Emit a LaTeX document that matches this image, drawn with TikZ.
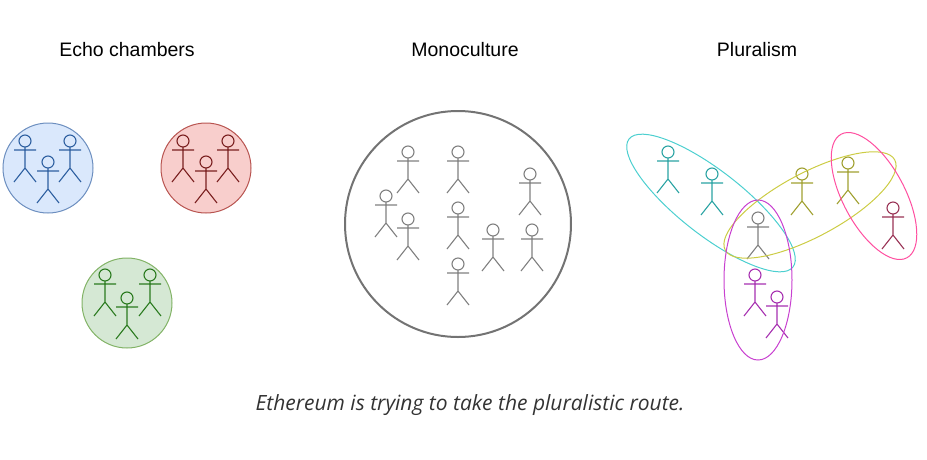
\documentclass[tikz,border=0pt]{standalone}
\usepackage{fontspec}
\setmainfont{Liberation Sans}
\newfontfamily\capfont{Open Sans}
\definecolor{bluef}{HTML}{DAE8FC}\definecolor{bluel}{HTML}{6C8EBF}\definecolor{bluep}{HTML}{2D5FA0}
\definecolor{redf}{HTML}{F8CECC}\definecolor{redl}{HTML}{B85450}\definecolor{redp}{HTML}{7A1F1F}
\definecolor{greenf}{HTML}{D5E8D4}\definecolor{greenl}{HTML}{82B366}\definecolor{greenp}{HTML}{2A7A1E}
\definecolor{grayp}{HTML}{808080}
\definecolor{cyanp}{HTML}{2AA3A3}\definecolor{cyanl}{HTML}{4CCFD0}
\definecolor{olivep}{HTML}{A0A030}\definecolor{olivel}{HTML}{CCCC44}
\definecolor{pinkl}{HTML}{FF4FA0}\definecolor{maroonp}{HTML}{993355}
\definecolor{purplep}{HTML}{A630B0}\definecolor{purplel}{HTML}{C840D0}
\tikzset{
  person/.pic={\draw[line width=1.1pt] (0,0) circle (6) (-11,9)--(11,9) (0,6)--(0,27) (-11,41)--(0,27)--(11,41);},
  group/.style={line width=1pt},
  title/.style={font=\fontsize{19.5}{22}\selectfont}
}
\begin{document}
\begin{tikzpicture}[x=1pt,y=-1pt]
\useasboundingbox (0,0) rectangle (927,459);
% titles
\node[title] (t1) at (127,50) {Echo chambers};
\node[title] (t2) at (465,50) {Monoculture};
\node[title] (t3) at (757,50) {Pluralism};
% echo chambers
\draw[group,fill=bluef,draw=bluel] (48,168) circle (45);
\draw[group,fill=redf,draw=redl] (206,168) circle (45);
\draw[group,fill=greenf,draw=greenl] (127,303) circle (45);
\foreach \p in {(25,141),(70,141),(48,162)} \pic[draw=bluep] at \p {person};
\foreach \p in {(183,141),(228,141),(206,162)} \pic[draw=redp] at \p {person};
\foreach \p in {(105,275),(150,275),(127,298)} \pic[draw=greenp] at \p {person};
% monoculture
\draw[line width=2pt,draw=black!55] (458,224) circle (113);
\foreach \p in {(408,152),(458,152),(530,174),(386,196),(458,208),(408,219),(493,230),(532,230),(458,264)} \pic[draw=grayp] at \p {person};
% pluralism
\foreach \p in {(668,152),(712,174)} \pic[draw=cyanp] at \p {person};
\foreach \p in {(802,174),(848,163)} \pic[draw=olivep] at \p {person};
\pic[draw=maroonp] at (893,208) {person};
\pic[draw=grayp] at (758,218) {person};
\foreach \p in {(755,275),(777,297)} \pic[draw=purplep] at \p {person};
\draw[group,cyanl,rotate around={-38:(711,203)}] (711,203) ellipse [x radius=104,y radius=32];
\draw[group,olivel,rotate around={28:(810,205)}] (810,205) ellipse [x radius=96,y radius=32];
\draw[group,pinkl,rotate around={-62:(874,196)}] (874,196) ellipse [x radius=70,y radius=31];
\draw[group,purplel] (758,280) ellipse [x radius=34,y radius=80];
% caption
\node[font=\capfont\itshape\fontsize{21}{24}\selectfont,text=black!80] (cap) at (470,405) {Ethereum is trying to take the pluralistic route.};
\end{tikzpicture}
\end{document}
